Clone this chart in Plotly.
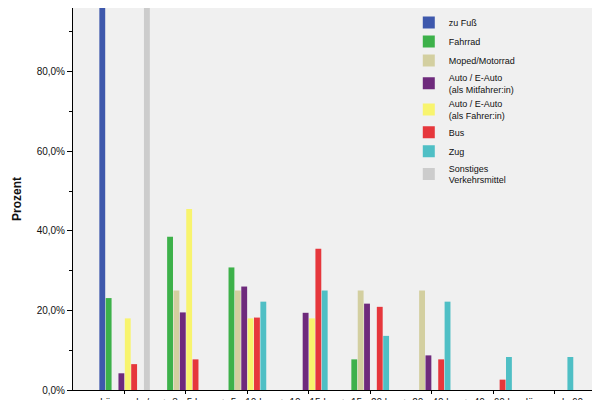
import plotly.graph_objects as go

categories = ["kürzer als /", "> 3 - 5 km", "> 5 - 10 km", "> 10 - 15 km", "> 15 - 20 km", "> 20 - 40 km", "> 40 - 60 km", "länger als 60"]
series_names = ["zu Fuß", "Fahrrad", "Moped/Motorrad", "Auto / E-Auto<br>(als Mitfahrer:in)", "Auto / E-Auto<br>(als Fahrer:in)", "Bus", "Zug", "Sonstiges<br>Verkehrsmittel"]
zu_fuss =    [100, 0, 0, 0, 0, 0, 0, 0]
fahrrad =    [23.1, 38.5, 30.8, 0, 7.7, 0, 0, 0]
moped =      [0, 25.0, 25.0, 0, 25.0, 25.0, 0, 0]
mitfahrer =  [4.2, 19.5, 26.0, 19.4, 21.7, 8.7, 0, 0]
fahrer =     [18.0, 45.5, 18.0, 18.0, 0, 0, 0, 0]
bus =        [6.5, 7.7, 18.2, 35.5, 20.9, 7.7, 2.6, 0]
zug =        [0, 0, 22.2, 25.0, 13.6, 22.2, 8.3, 8.3]
sonstiges =  [100, 0, 0, 0, 0, 0, 0, 0]
colors = ["#3e58ac", "#3db14a", "#d3cfa0", "#6e2a7c", "#f8f46e", "#e6373c", "#4fbfc5", "#cccccc"]
y_ticks = [0, 20, 40, 60, 80]
y_labels = ["0,0%", "20,0%", "40,0%", "60,0%", "80,0%"]

fig = go.Figure()
for name, vals, c in zip(series_names, [zu_fuss, fahrrad, moped, mitfahrer, fahrer, bus, zug, sonstiges], colors):
    fig.add_trace(go.Bar(x=list(range(len(categories))), y=vals, name=name, marker_color=c, marker_line_width=0))

fig.update_layout(
    width=600, height=400, barmode="group", bargap=0.17, bargroupgap=0.08,
    margin=dict(l=65, r=2, t=0, b=14),
    paper_bgcolor="white", plot_bgcolor="#f0f0f0",
    font=dict(family="Arial, Liberation Sans", size=10, color="#111"),
    legend=dict(x=0.63, y=1.0, xanchor="left", yanchor="top", bgcolor="rgba(0,0,0,0)",
                font=dict(size=9), tracegroupgap=0, itemwidth=30, itemsizing="constant"),
    showlegend=True,
)
fig.update_xaxes(range=[-0.84, 7.84], tickvals=list(range(len(categories))), ticktext=categories,
                 showline=True, linecolor="black", ticks="outside", ticklen=3, tickcolor="black",
                 showgrid=False, tickfont=dict(size=10))
fig.update_yaxes(range=[0, 96], tickvals=y_ticks, ticktext=y_labels, showline=True, linecolor="black",
                 ticks="outside", ticklen=5, tickcolor="black", showgrid=False, zeroline=False,
                 minor=dict(ticks="outside", ticklen=3, dtick=10, tickcolor="black"),
                 title=dict(text="<b>Prozent</b>", font=dict(size=12), standoff=12))
fig.write_html("out.html")
